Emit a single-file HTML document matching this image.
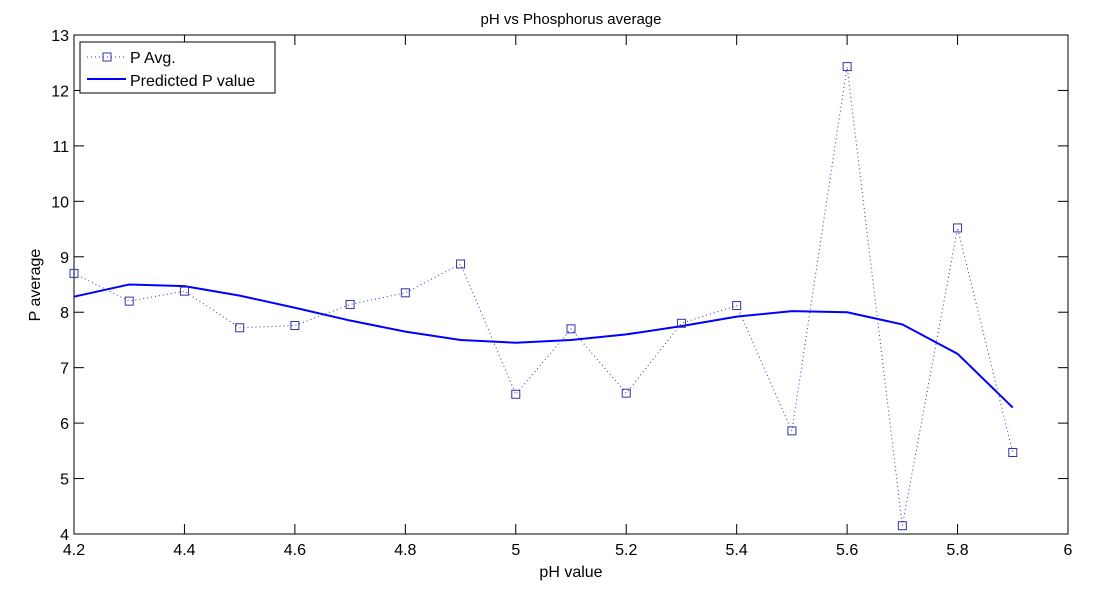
<!DOCTYPE html>
<html><head><meta charset="utf-8"><style>
body{margin:0;background:#fff;}
svg{display:block;font-family:"Liberation Sans",Arial,sans-serif;}
</style></head><body>
<svg id="chart" width="1101" height="593">
<rect width="1101" height="593" fill="#fff"/>
<g id="g"></g>
</svg>
<script>
const xCats=[4.2,4.3,4.4,4.5,4.6,4.7,4.8,4.9,5.0,5.1,5.2,5.3,5.4,5.5,5.6,5.7,5.8,5.9];
const pAvg=[8.7,8.2,8.38,7.72,7.76,8.14,8.35,8.87,6.52,7.7,6.54,7.8,8.12,5.86,12.43,4.15,9.52,5.47];
const predicted=[8.28,8.5,8.47,8.3,8.08,7.85,7.65,7.5,7.45,7.5,7.6,7.75,7.92,8.02,8.0,7.78,7.25,6.28];
const xTicks=[4.2,4.4,4.6,4.8,5,5.2,5.4,5.6,5.8,6];
const yTicks=[4,5,6,7,8,9,10,11,12,13];
const L=74,R=1068,T=35,B=534;
const sx=v=>L+(v-4.2)/(6-4.2)*(R-L);
const sy=v=>B-(v-4)/(13-4)*(B-T);
const NS='http://www.w3.org/2000/svg';
const g=document.getElementById('g');
function el(t,a,txt){const e=document.createElementNS(NS,t);for(const k in a)e.setAttribute(k,a[k]);if(txt!==undefined)e.textContent=txt;g.appendChild(e);return e;}
let e=el('rect',{x:L,y:T,width:R-L,height:B-T,fill:'none',stroke:'#000','stroke-width':1});


xTicks.forEach(v=>{const x=sx(v);
 el('line',{x1:x,x2:x,y1:B,y2:B-10,stroke:'#000'});el('line',{x1:x,x2:x,y1:T,y2:T+10,stroke:'#000'});
 const t=el('text',{x:x,y:B+21,'text-anchor':'middle','font-size':16},String(v));
 
 });
yTicks.forEach(v=>{const y=sy(v);
 el('line',{x1:L,x2:L+10,y1:y,y2:y,stroke:'#000'});el('line',{x1:R,x2:R-10,y1:y,y2:y,stroke:'#000'});
 const t=el('text',{x:L-5,y:y+6,'text-anchor':'end','font-size':16},String(v));
 
 });
let d=predicted.map((v,i)=>(i?'L':'M')+sx(xCats[i])+','+sy(v)).join('');
e=el('path',{d:d,fill:'none',stroke:'#0000ff','stroke-width':2});


d=pAvg.map((v,i)=>(i?'L':'M')+sx(xCats[i])+','+sy(v)).join('');
e=el('path',{d:d,fill:'none',stroke:'#3333cc','stroke-width':1,'stroke-dasharray':'1,3'});


pAvg.forEach((v,i)=>{const m=el('rect',{x:sx(xCats[i])-4,y:sy(v)-4,width:8,height:8,fill:'none',stroke:'#3333aa','stroke-width':1});
 
 });
e=el('text',{x:571,y:24,'text-anchor':'middle','font-size':15},'pH vs Phosphorus average');


e=el('text',{x:571,y:577,'text-anchor':'middle','font-size':16},'pH value');


e=el('text',{x:40,y:285,'text-anchor':'middle','font-size':16,transform:'rotate(-90 40 285)'},'P average');


e=el('rect',{x:80,y:42,width:195,height:51,fill:'#fff',stroke:'#000'});


el('line',{x1:87,x2:126,y1:57,y2:57,stroke:'#3333cc','stroke-dasharray':'1,3'});
el('rect',{x:103,y:53,width:8,height:8,fill:'none',stroke:'#3333aa'});
e=el('text',{x:130,y:63,'font-size':16},'P Avg.');


el('line',{x1:87,x2:126,y1:79,y2:79,stroke:'#0000ff','stroke-width':2});
e=el('text',{x:130,y:86,'font-size':16},'Predicted P value');


</script>
</body></html>
